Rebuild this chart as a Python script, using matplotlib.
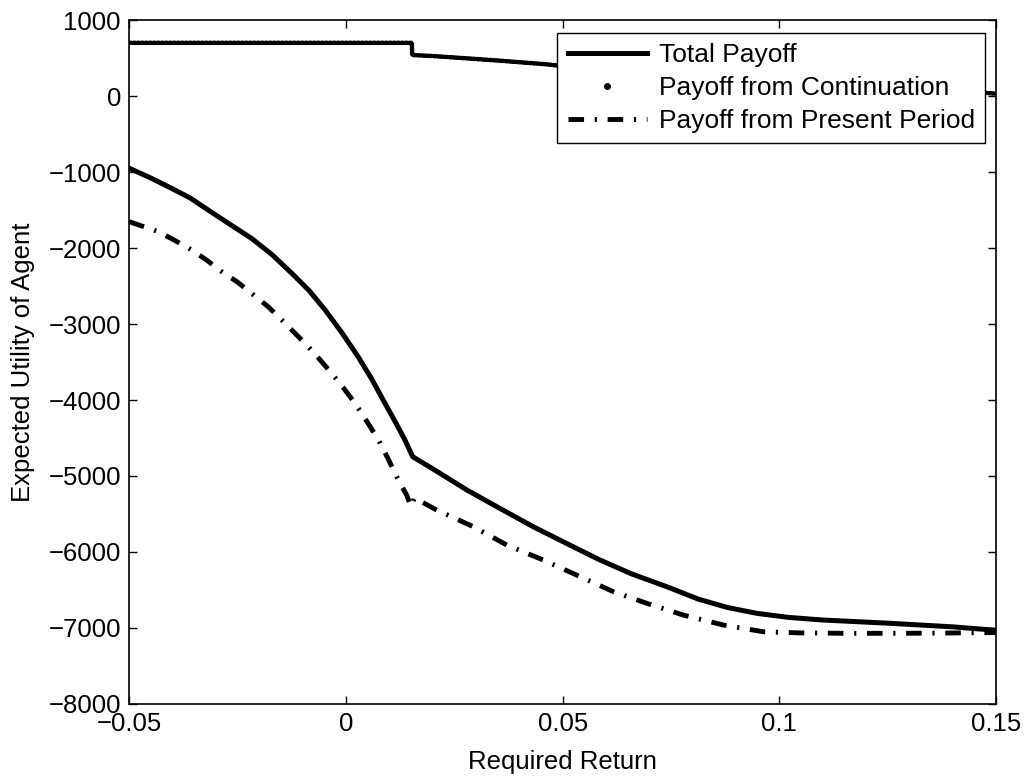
import matplotlib
matplotlib.use("Agg")
import matplotlib.pyplot as plt
from matplotlib.lines import Line2D

plt.rcParams['font.family'] = ['Liberation Sans', 'DejaVu Sans']

# Total payoff
total_x = [-0.05, -0.045, -0.041, -0.036, -0.0318, -0.027, -0.0218, -0.017, -0.0125,
           -0.0085, -0.0048, -0.001, 0.0028, 0.006, 0.009, 0.0115, 0.0136, 0.0154,
           0.021, 0.0279, 0.035, 0.0432, 0.051, 0.0586, 0.066, 0.074, 0.0813, 0.088,
           0.0948, 0.102, 0.110, 0.1255, 0.14, 0.15]
total_y = [-951, -1080, -1193, -1340, -1500, -1680, -1873, -2090, -2333,
           -2560, -2816, -3110, -3430, -3730, -4043, -4300, -4526, -4746,
           -4940, -5184, -5410, -5667, -5890, -6105, -6290, -6456, -6620, -6730,
           -6807, -6860, -6895, -6938, -6985, -7030]

# Payoff from continuation
cont_x = [-0.05, 0.0152, 0.0153, 0.0201, 0.0278, 0.0355, 0.0463, 0.0586, 0.074,
          0.0948, 0.110, 0.125, 0.140, 0.15]
cont_y = [700, 700, 539, 526, 496, 465, 417, 338, 304,
          233, 180, 132, 80, 30]

# Payoff from present period
pres_x = [-0.05, -0.0433, -0.0395, -0.0356, -0.032, -0.0287, -0.025, -0.0218, -0.018,
          -0.0148, -0.0118, -0.0087, -0.006, -0.0033, -0.0006, 0.0021, 0.0048, 0.0075,
          0.0097, 0.0117, 0.0140, 0.0150, 0.0158, 0.0209, 0.0294, 0.0371, 0.0455,
          0.0532, 0.0617, 0.0694, 0.0778, 0.0871, 0.0963, 0.105, 0.115, 0.125,
          0.135, 0.15]
pres_y = [-1654, -1785, -1900, -2026, -2165, -2311, -2450, -2596, -2770,
          -2947, -3120, -3298, -3470, -3649, -3840, -4043, -4280, -4526,
          -4770, -5009, -5250, -5400, -5290, -5447, -5667, -5908, -6105,
          -6303, -6522, -6675, -6829, -6961, -7049, -7065, -7070, -7070,
          -7068, -7060]

xticks = [-0.05, 0, 0.05, 0.1, 0.15]
xticklabels = ['\u22120.05', '0', '0.05', '0.1', '0.15']
yticks = list(range(-8000, 1001, 1000))

fig = plt.figure(figsize=(10.27, 7.76), dpi=100)
ax = fig.add_axes([0.1259, 0.0928, 0.9698 - 0.1259, 0.9742 - 0.0928])

FS = 18.5
LFS = 19
DASHDOT = (0, (3.2, 2.2, 0.45, 2.2))
ax.plot(total_x, total_y, color='black', lw=3.6, solid_joinstyle='round')
ax.plot(cont_x, cont_y, color='black', lw=3.2, linestyle=(0, (0.45, 0.45)),
        dash_capstyle='round')
ax.plot(pres_x, pres_y, color='black', lw=3.5, linestyle=DASHDOT,
        dash_capstyle='butt')

ax.set_xlim(-0.05, 0.15)
ax.set_ylim(-8000, 1000)
ax.set_xticks(xticks)
ax.set_xticklabels(xticklabels)
ax.set_yticks(yticks)
ax.tick_params(direction='in', length=6, width=1, top=True, right=True,
               labelsize=FS, pad=6, colors='black')
for s in ax.spines.values():
    s.set_linewidth(1.2)
    s.set_color('black')

ax.set_xlabel('Required Return', fontsize=FS, labelpad=10)
ax.set_ylabel('Expected Utility of Agent', fontsize=FS, labelpad=10)

handles = [
    Line2D([], [], color='black', lw=3.6),
    Line2D([], [], color='black', marker='.', markersize=8, linestyle='none'),
    Line2D([], [], color='black', lw=3.5, linestyle=DASHDOT),
]
labels = ['Total Payoff', 'Payoff from Continuation', 'Payoff from Present Period']
leg = ax.legend(handles, labels, loc='upper right', bbox_to_anchor=(0.987, 0.981),
                borderaxespad=0, fontsize=LFS, frameon=True, fancybox=False,
                handlelength=3.0, handletextpad=0.45, labelspacing=0.34,
                borderpad=0.38, framealpha=1, edgecolor='black')
leg.get_frame().set_linewidth(1.0)

fig.savefig('out.png', dpi=100, facecolor='white')
